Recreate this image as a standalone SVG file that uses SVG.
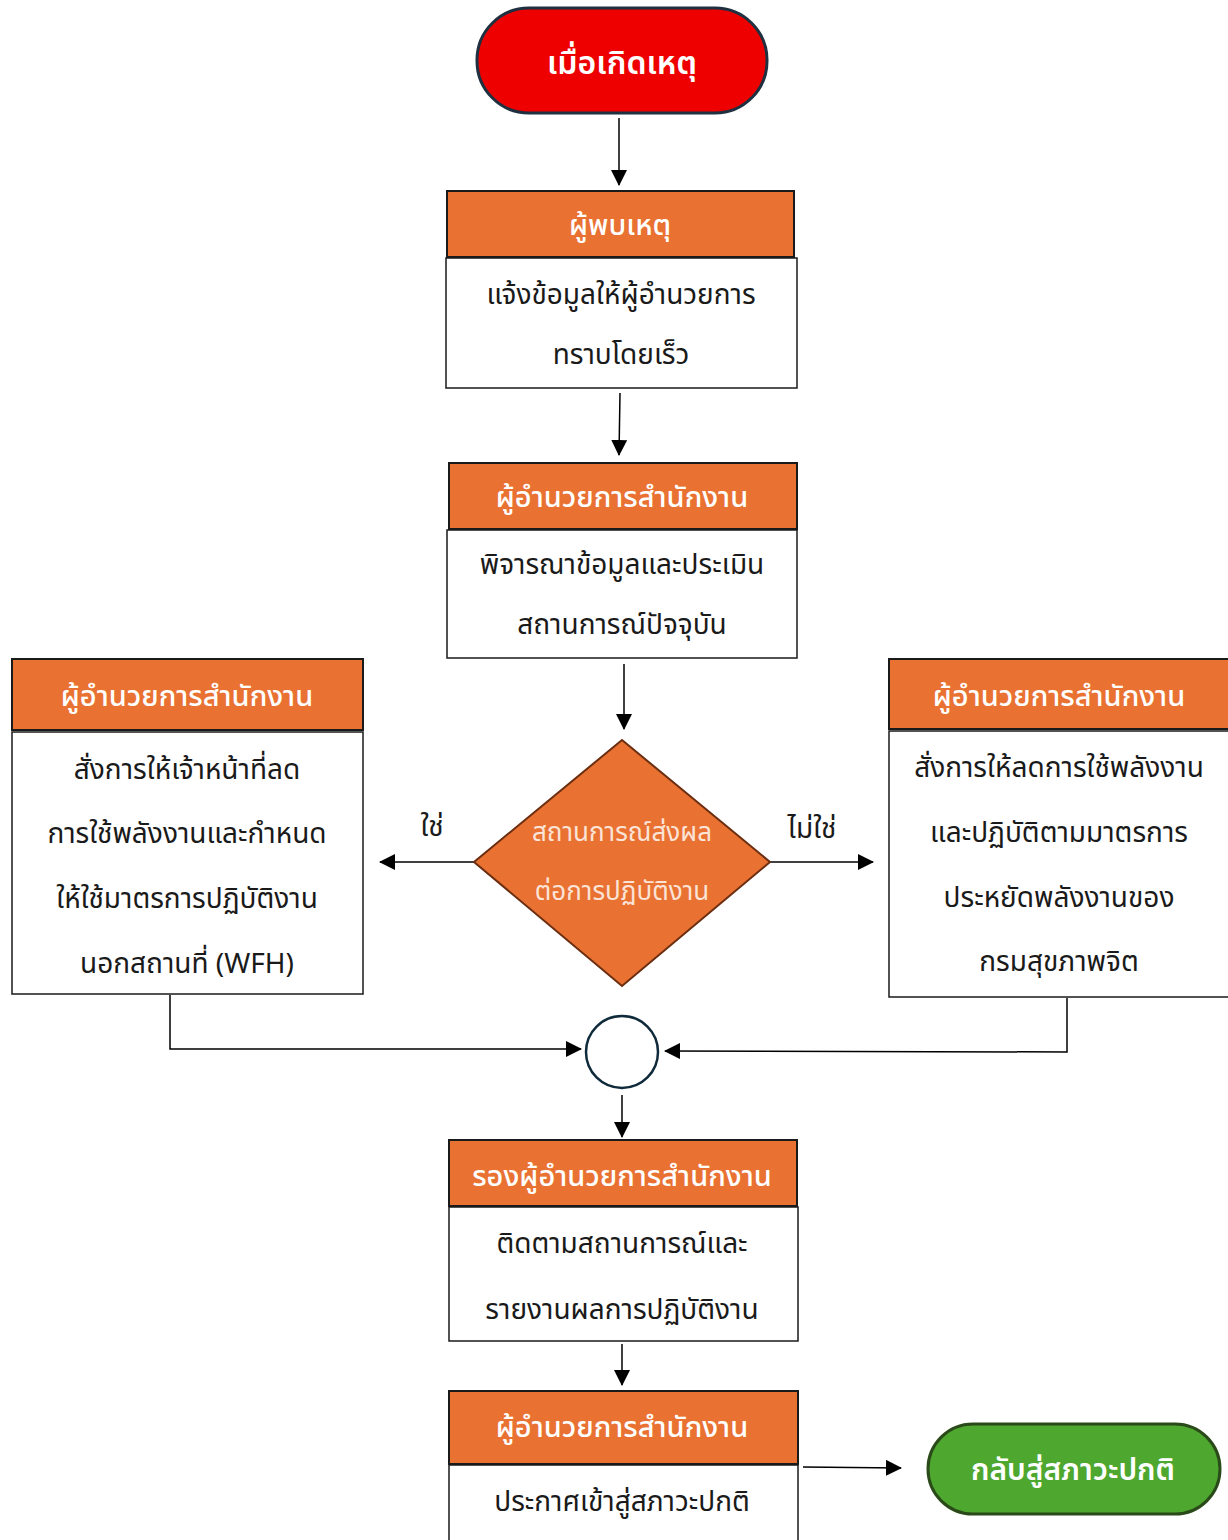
<svg xmlns="http://www.w3.org/2000/svg" width="1228" height="1540" viewBox="0 0 1228 1540">
<style>
text{font-family:"Noto Sans","Noto Sans Thai","Liberation Sans",sans-serif;text-anchor:middle}
.hd{fill:#E97132;stroke:#1a1a1a;stroke-width:2}
.bd{fill:#fff;stroke:#1a1a1a;stroke-width:1.5}
.ht{fill:#fff;font-size:29px;font-weight:500}
.bt{fill:#1a1a1a;font-size:28px}
.ln{fill:none;stroke:#000;stroke-width:1.5}
</style>
<defs>
<marker id="ah2" markerWidth="16" markerHeight="16" refX="15" refY="8" orient="auto" markerUnits="userSpaceOnUse" viewBox="0 0 16 16">
<path d="M0,0 L16,8 L0,16 z" fill="#000"/>
</marker>
</defs>
<rect width="1228" height="1540" fill="#fff"/>
<g id="connectors">
<line class="ln" x1="619" y1="118" x2="619" y2="185" marker-end="url(#ah2)"/>
<line class="ln" x1="620" y1="393" x2="619" y2="455" marker-end="url(#ah2)"/>
<line class="ln" x1="624" y1="664" x2="624" y2="729" marker-end="url(#ah2)"/>
<line class="ln" x1="474" y1="862" x2="380" y2="862" marker-end="url(#ah2)"/>
<line class="ln" x1="770" y1="862" x2="873" y2="862" marker-end="url(#ah2)"/>
<polyline class="ln" points="170,995 170,1049 581,1049" marker-end="url(#ah2)"/>
<polyline class="ln" points="1067,998 1067,1052 665,1051" marker-end="url(#ah2)"/>
<line class="ln" x1="622" y1="1095" x2="622" y2="1137" marker-end="url(#ah2)"/>
<line class="ln" x1="622" y1="1344" x2="622" y2="1385" marker-end="url(#ah2)"/>
<line class="ln" x1="803" y1="1467" x2="901" y2="1468" marker-end="url(#ah2)"/>
<text class="bt" x="432" y="836">ใช่</text>
<text class="bt" x="812" y="838">ไม่ใช่</text>
</g>
<g id="start">
<rect x="477" y="8" width="290" height="105" rx="52" fill="#EE0000" stroke="#1F3040" stroke-width="3"/>
<text x="622" y="74" fill="#fff" font-size="32" font-weight="600">เมื่อเกิดเหตุ</text>
</g>
<g id="reporter">
<rect class="hd" x="447" y="191" width="347" height="66"/>
<text class="ht" x="620" y="235">ผู้พบเหตุ</text>
<rect class="bd" x="446" y="258" width="351" height="130"/>
<text class="bt" x="621" y="304">แจ้งข้อมูลให้ผู้อำนวยการ</text>
<text class="bt" x="621" y="364">ทราบโดยเร็ว</text>
</g>
<g id="director1">
<rect class="hd" x="449" y="463" width="348" height="66"/>
<text class="ht" x="622" y="507">ผู้อำนวยการสำนักงาน</text>
<rect class="bd" x="447" y="530" width="350" height="128"/>
<text class="bt" x="622" y="574">พิจารณาข้อมูลและประเมิน</text>
<text class="bt" x="622" y="634">สถานการณ์ปัจจุบัน</text>
</g>
<g id="decision">
<polygon points="622,740 770,862 622,986 474,862" fill="#E97132" stroke="#6B2E10" stroke-width="2"/>
<text x="622" y="841" fill="#FBE3D6" font-size="26">สถานการณ์ส่งผล</text>
<text x="622" y="900" fill="#FBE3D6" font-size="26">ต่อการปฏิบัติงาน</text>
</g>
<g id="director-yes">
<rect class="hd" x="12" y="659" width="351" height="71"/>
<text class="ht" x="187" y="706">ผู้อำนวยการสำนักงาน</text>
<rect class="bd" x="12" y="732" width="351" height="262"/>
<text class="bt" x="187" y="779">สั่งการให้เจ้าหน้าที่ลด</text>
<text class="bt" x="187" y="843">การใช้พลังงานและกำหนด</text>
<text class="bt" x="187" y="908">ให้ใช้มาตรการปฏิบัติงาน</text>
<text class="bt" x="187" y="973">นอกสถานที่ (WFH)</text>
</g>
<g id="director-no">
<rect class="hd" x="889" y="659" width="345" height="70"/>
<text class="ht" x="1059" y="706">ผู้อำนวยการสำนักงาน</text>
<rect class="bd" x="889" y="731" width="345" height="266"/>
<text class="bt" x="1059" y="777">สั่งการให้ลดการใช้พลังงาน</text>
<text class="bt" x="1059" y="842">และปฏิบัติตามมาตรการ</text>
<text class="bt" x="1059" y="907">ประหยัดพลังงานของ</text>
<text class="bt" x="1059" y="971">กรมสุขภาพจิต</text>
</g>
<g id="merge">
<circle cx="622" cy="1052" r="36" fill="#fff" stroke="#0F2A3A" stroke-width="2.5"/>
</g>
<g id="deputy">
<rect class="hd" x="449" y="1140" width="348" height="66"/>
<text class="ht" x="622" y="1186">รองผู้อำนวยการสำนักงาน</text>
<rect class="bd" x="449" y="1207" width="349" height="134"/>
<text class="bt" x="622" y="1253">ติดตามสถานการณ์และ</text>
<text class="bt" x="622" y="1319">รายงานผลการปฏิบัติงาน</text>
</g>
<g id="director-final">
<rect class="hd" x="449" y="1391" width="349" height="73"/>
<text class="ht" x="622" y="1437">ผู้อำนวยการสำนักงาน</text>
<rect class="bd" x="449" y="1465" width="349" height="80"/>
<text class="bt" x="622" y="1511">ประกาศเข้าสู่สภาวะปกติ</text>
</g>
<g id="end">
<rect x="928" y="1424" width="292" height="90" rx="45" fill="#4EA72E" stroke="#2A4A1A" stroke-width="3"/>
<text x="1073" y="1480" fill="#fff" font-size="30" font-weight="600">กลับสู่สภาวะปกติ</text>
</g>
</svg>
